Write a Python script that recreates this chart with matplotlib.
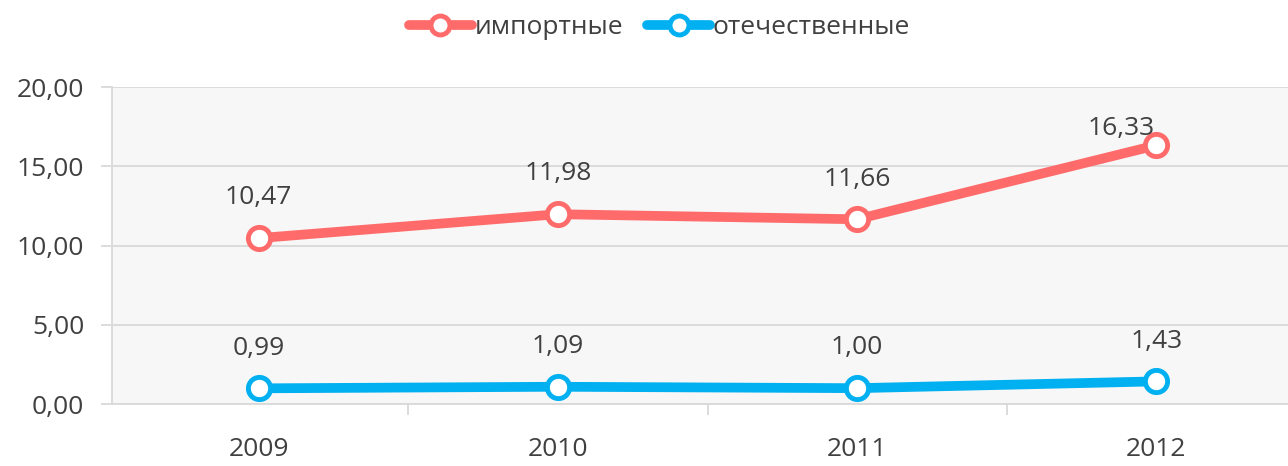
import matplotlib
matplotlib.use("Agg")
import matplotlib.pyplot as plt
from matplotlib.ticker import FuncFormatter, FixedLocator

plt.rcParams['font.family'] = ['Open Sans', 'DejaVu Sans']

years = ['2009', '2010', '2011', '2012']
imported = [10.47, 11.98, 11.66, 16.33]
domestic = [0.99, 1.09, 1.00, 1.43]
series_names = ['импортные', 'отечественные']

RED = '#ff6b6b'
BLUE = '#00b0f0'
TXT = '#404040'


def fmt(v, _=None):
    return f'{v:.2f}'.replace('.', ',')


fig = plt.figure(figsize=(12.88, 4.66), dpi=100)
ax = fig.add_axes([0.087, 0.133, 0.913, 0.68])
ax.set_facecolor('#f7f7f7')

xs = list(range(len(years)))
for vals, col, name in [(imported, RED, series_names[0]), (domestic, BLUE, series_names[1])]:
    ax.plot(xs, vals, color=col, lw=7, marker='o', ms=16, mfc='white',
            mec=col, mew=3.5, label=name, solid_capstyle='round', zorder=3)

# data labels
for i, v in enumerate(imported):
    dx = -25 if i == 3 else 0
    dy = 12 if i == 3 else 29
    ax.annotate(fmt(v), (i, v), xytext=(dx, dy), textcoords='offset points',
                ha='center', va='center', fontsize=19, color=TXT)
for i, v in enumerate(domestic):
    ax.annotate(fmt(v), (i, v), xytext=(0, 29), textcoords='offset points',
                ha='center', va='center', fontsize=19, color=TXT)

ax.set_ylim(0, 20)
ax.set_xlim(-0.49, 3.44)
ax.set_yticks([0, 5, 10, 15, 20])
ax.yaxis.set_major_formatter(FuncFormatter(fmt))
ax.yaxis.grid(True, color='#d9d9d9', lw=1.3)
ax.set_axisbelow(True)

ax.set_xticks(xs)
ax.set_xticklabels(years)
ax.xaxis.set_minor_locator(FixedLocator([-0.5, 0.5, 1.5, 2.5]))
ax.tick_params(axis='x', which='major', length=0, pad=24, labelsize=19, labelcolor=TXT)
ax.tick_params(axis='x', which='minor', length=8, color='#d9d9d9', width=1.3)
ax.tick_params(axis='y', length=8, color='#d9d9d9', width=1.3, labelsize=19,
               labelcolor=TXT, pad=12)

for s in ['top', 'right']:
    ax.spines[s].set_visible(False)
ax.spines['left'].set_color('#d9d9d9')
ax.spines['left'].set_linewidth(1.3)
ax.spines['bottom'].set_color('#d9d9d9')
ax.spines['bottom'].set_linewidth(1.3)

fig.legend(loc='center', bbox_to_anchor=(0.512, 0.94), ncol=2, frameon=False,
           fontsize=19, labelcolor=TXT, handlelength=2.4, handletextpad=0.1,
           columnspacing=0.9, markerscale=0.85)

fig.savefig('out.png', dpi=100)
